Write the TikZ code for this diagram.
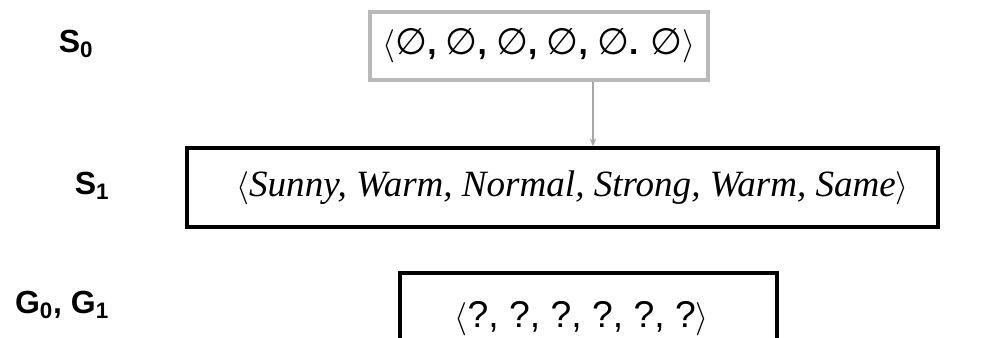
\documentclass[tikz,border=0pt]{standalone}
\usepackage{fontspec}
\setmainfont{Liberation Serif}
\newfontfamily\arialfont{Liberation Sans}
\newfontfamily\symfont{DejaVu Sans}
\newcommand{\eset}{{\symfont\scalebox{1.1}{∅}}}
\tikzset{
  setlabel/.style={font=\arialfont\bfseries\fontsize{24}{26}\selectfont},
  hypbox/.style={draw, line width=2.6pt, inner sep=0pt},
  flow/.style={-{Stealth[length=6pt,width=5pt]}, gray!70, line width=0.8pt}
}
\usetikzlibrary{arrows.meta}
\begin{document}
\begin{tikzpicture}[x=0.75pt,y=-0.75pt]
    \useasboundingbox (0,0) rectangle (987,338);
    \clip (0,0) rectangle (987,338);

    % Row labels
    \node[setlabel] (ls0) at (76,44) {S\textsubscript{0}};
    \node[setlabel] (ls1) at (92,186) {S\textsubscript{1}};
    \node[setlabel] (lg) at (62,305) {G\textsubscript{0}, G\textsubscript{1}};

    % Most specific boundary S0
    \node[hypbox, draw=gray!55, line width=3.2pt, minimum width=338*0.75pt, minimum height=68*0.75pt,
          font=\arialfont\fontsize{25}{30}\selectfont] (s0) at (539,46)
          {$\langle$\eset\textbf{,} \eset\textbf{,} \eset\textbf{,} \eset\textbf{,} \eset\textbf{.} \eset$\rangle$};

    % Boundary S1 after the first example
    \node[hypbox, minimum width=751*0.75pt, minimum height=79*0.75pt,
          font=\fontsize{27.8}{32}\selectfont] (s1) at (562.5,187.5)
          {\hspace*{15pt}$\langle$\textit{Sunny, Warm, Normal, Strong, Warm, Same}$\rangle$};

    % Most general boundary G0, G1 (cut off below)
    \node[hypbox, minimum width=377*0.75pt, minimum height=92*0.75pt,
          font=\arialfont\fontsize{28}{32}\selectfont] (g) at (588.5,319)
          {\hspace*{-10pt}$\langle$?, ?, ?, ?, ?, ?$\rangle$};

    % Step from S0 to S1
    \coordinate (tip) at (593,0);
    \draw[flow] (s0.south -| tip) -- (s1.north -| tip);
\end{tikzpicture}
\end{document}
